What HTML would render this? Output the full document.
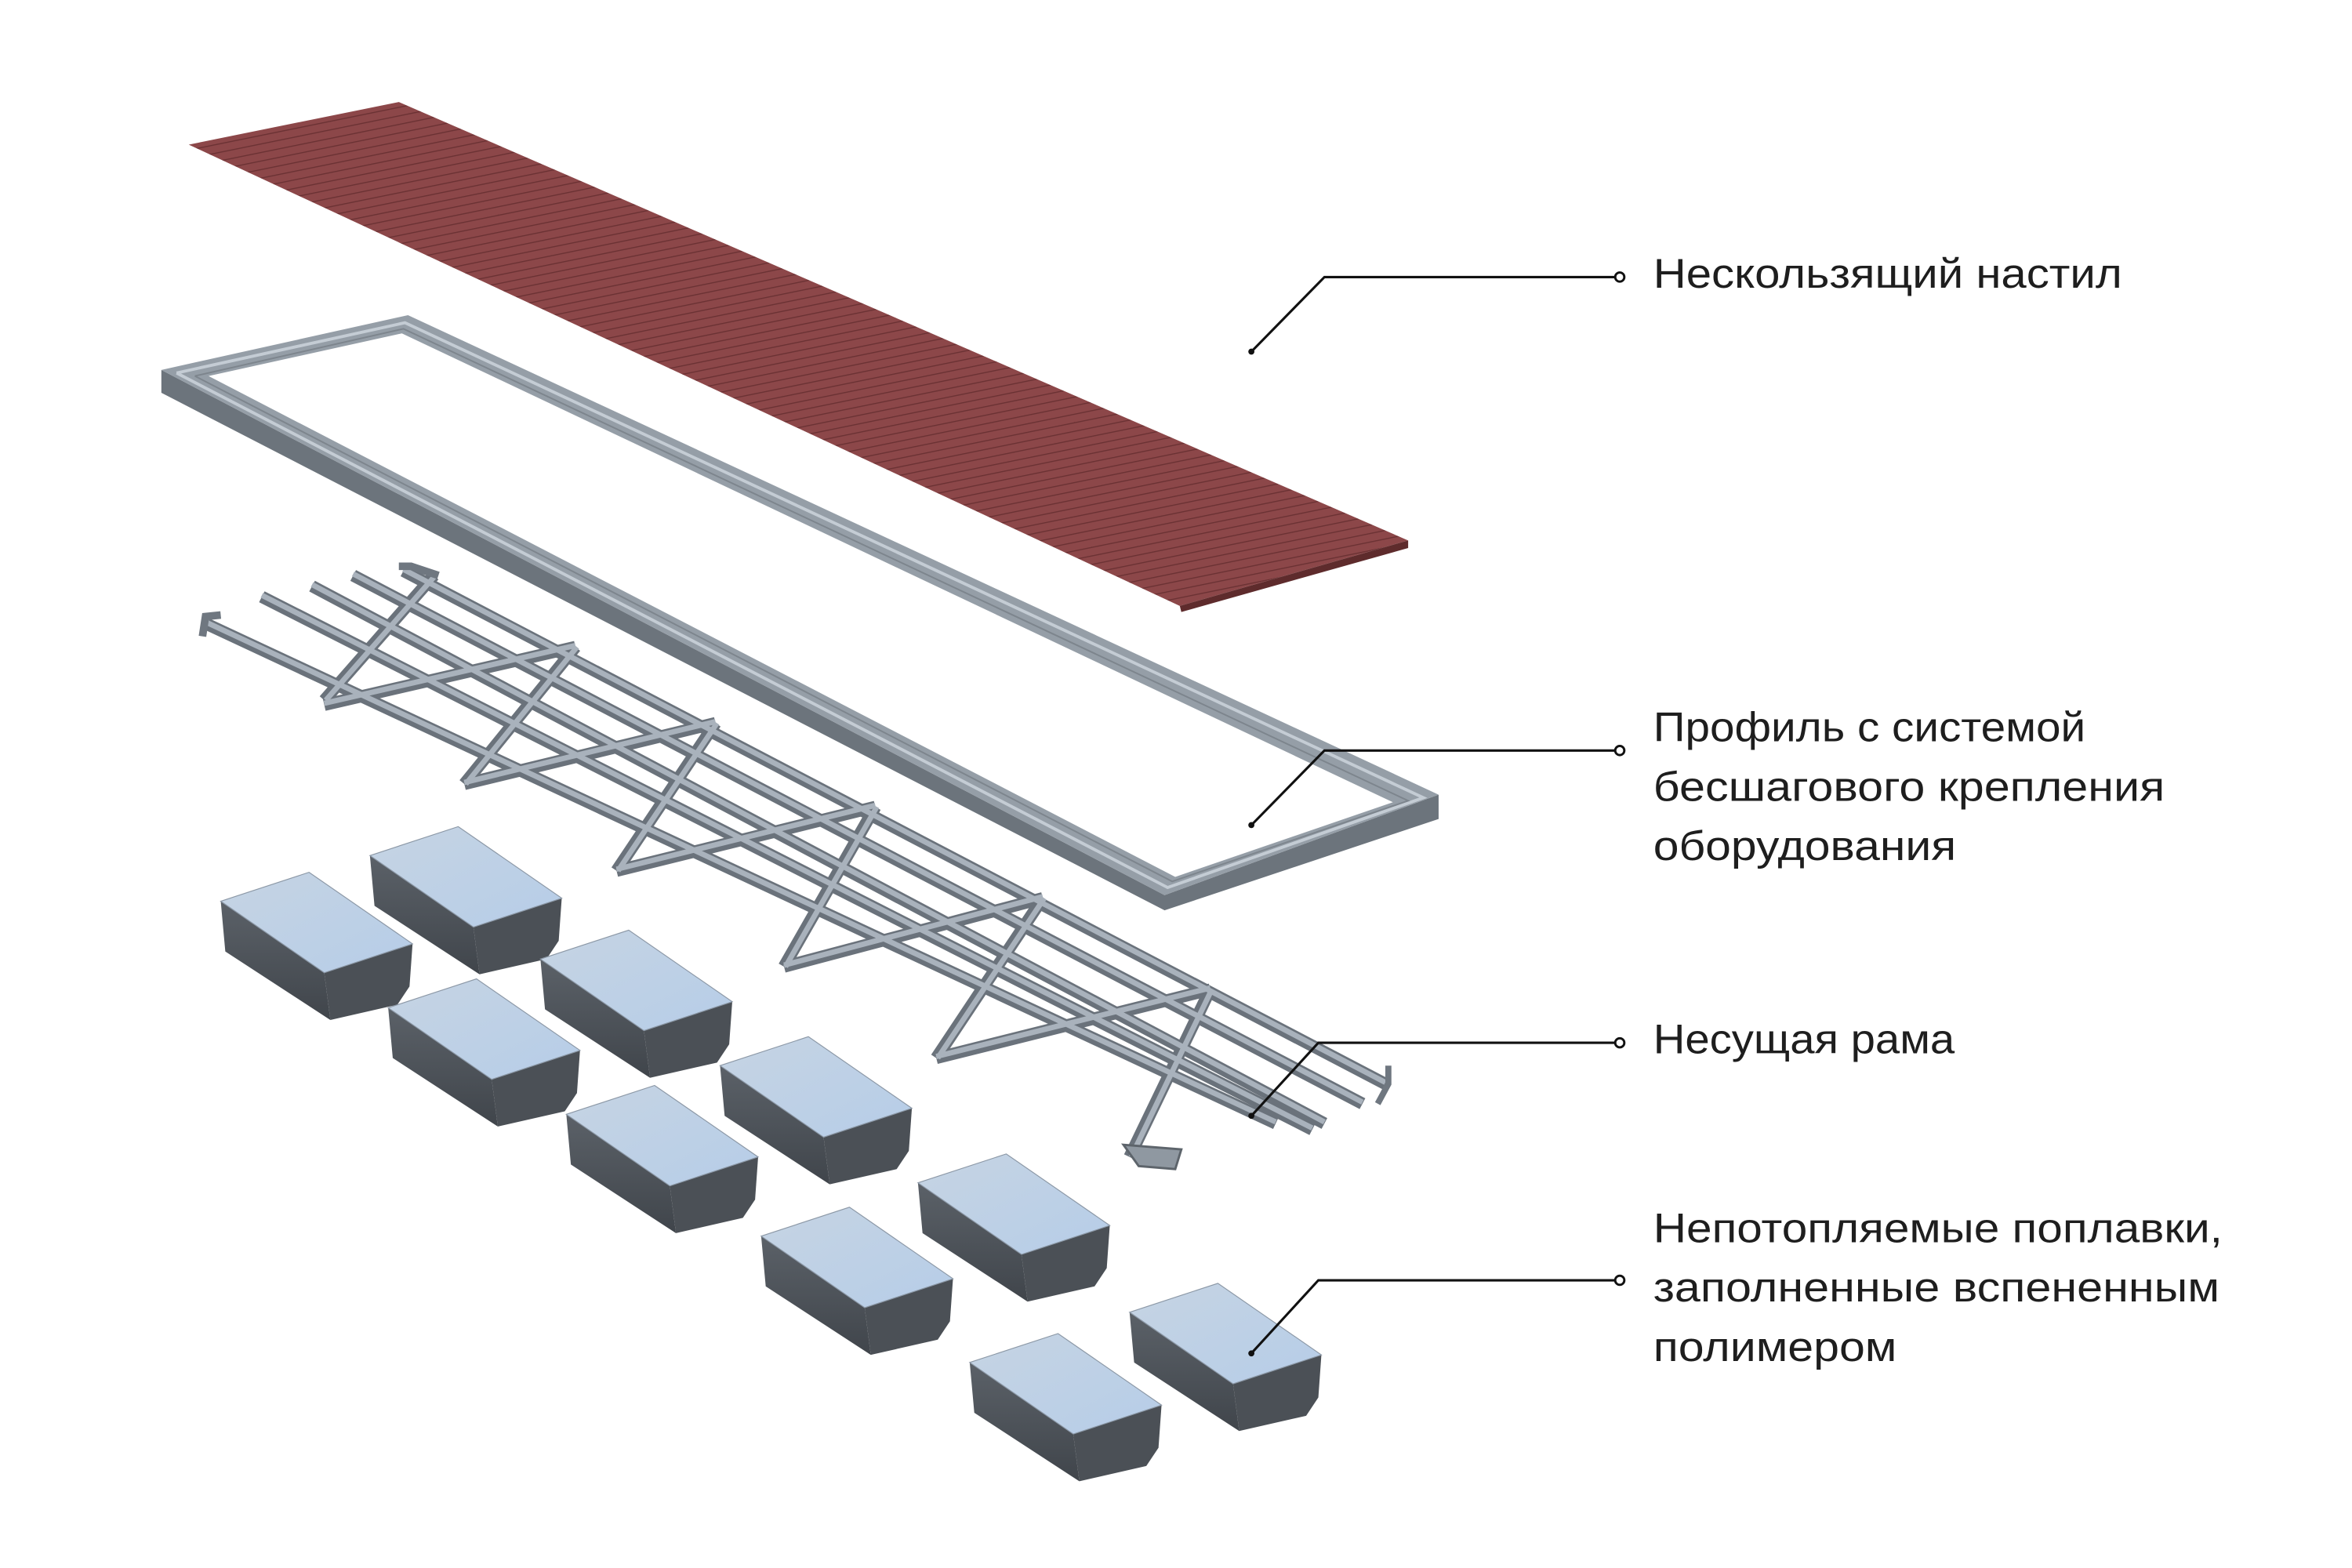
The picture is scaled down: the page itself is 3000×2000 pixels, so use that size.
<!DOCTYPE html>
<html><head><meta charset="utf-8"><style>
html,body{margin:0;padding:0;background:#fff;}
svg{display:block;}
text{font-family:"Liberation Sans","DejaVu Sans",sans-serif;fill:#1e1e1e;font-size:27px;}
</style></head><body>
<svg width="3000" height="2000" viewBox="0 0 1545 1030" xmlns="http://www.w3.org/2000/svg">
<defs>
<pattern id="pl" width="40" height="5.5" patternUnits="userSpaceOnUse" patternTransform="rotate(-11.5)">
<rect width="40" height="5.5" fill="#8c4749"/>
<rect width="40" height="0.7" fill="#6a3133"/>
</pattern>
<linearGradient id="top" x1="0" y1="0" x2="1" y2="1"><stop offset="0" stop-color="#c6d4e3"/><stop offset="1" stop-color="#b6cde8"/></linearGradient>
<linearGradient id="side" x1="0" y1="0" x2="0" y2="1"><stop offset="0" stop-color="#5b6168"/><stop offset="1" stop-color="#40454b"/></linearGradient>
<g id="box">
<polygon points="0,0 68,47 72,78 3,33" fill="url(#side)"/>
<polygon points="68,47 126,28 124,56 116,68 72,78" fill="#4b5056"/>
<polygon points="0,0 58,-19 126,28 68,47" fill="url(#top)" stroke="#8c98a6" stroke-width="0.6"/>
</g>
</defs>

<!-- deck -->
<polygon points="124,95 262,67 925,355 775,398" fill="url(#pl)"/>
<polygon points="775,398 925,355 925,360 776,402" fill="#5e2b2c"/>

<!-- frame -->
<polygon points="106,243 106,258 765,598 945,538 945,522 765,588" fill="#6c747c"/>
<polygon points="106,243 268,207 945,522 765,588" fill="#959ea7"/>
<polygon points="137,247 264,219 915,527 772,576" fill="#fff"/>
<polyline points="116,245 266,212 935,524 767,583 116,245" fill="none" stroke="#c4ccd4" stroke-width="2"/>
<polyline points="128,247 265,216 925,526 770,579 128,247" fill="none" stroke="#7d858d" stroke-width="1"/>

<!-- carrying frame -->
<g stroke-linecap="butt" fill="none">
<g stroke="#6a727b" stroke-width="8">
<line x1="136" y1="410" x2="838" y2="738"/>
<line x1="172" y1="392" x2="862" y2="742"/>
<line x1="205" y1="385" x2="870" y2="738"/>
<line x1="232" y1="378" x2="895" y2="725"/>
<line x1="265" y1="375" x2="910" y2="712"/>
<line x1="213" y1="463" x2="378" y2="425"/>
<line x1="305" y1="515" x2="470" y2="475"/>
<line x1="405" y1="572" x2="575" y2="530"/>
<line x1="515" y1="635" x2="685" y2="590"/>
<line x1="615" y1="695" x2="795" y2="650"/>
<line x1="213" y1="460" x2="285" y2="378"/>
<line x1="305" y1="515" x2="378" y2="425"/>
<line x1="405" y1="572" x2="470" y2="475"/>
<line x1="515" y1="635" x2="575" y2="530"/>
<line x1="615" y1="695" x2="685" y2="590"/>
<line x1="742" y1="760" x2="795" y2="650"/>
</g>
<g stroke="#a9b2bc" stroke-width="3.5">
<line x1="136" y1="409" x2="838" y2="737"/>
<line x1="172" y1="391" x2="862" y2="741"/>
<line x1="205" y1="384" x2="870" y2="737"/>
<line x1="232" y1="377" x2="895" y2="724"/>
<line x1="265" y1="374" x2="910" y2="711"/>
<line x1="213" y1="462" x2="378" y2="424"/>
<line x1="305" y1="514" x2="470" y2="474"/>
<line x1="405" y1="571" x2="575" y2="529"/>
<line x1="515" y1="634" x2="685" y2="589"/>
<line x1="615" y1="694" x2="795" y2="649"/>
<line x1="214" y1="460" x2="286" y2="378"/>
<line x1="306" y1="515" x2="379" y2="425"/>
<line x1="406" y1="572" x2="471" y2="475"/>
<line x1="516" y1="635" x2="576" y2="530"/>
<line x1="616" y1="695" x2="686" y2="590"/>
<line x1="743" y1="760" x2="796" y2="650"/>
</g>
<polyline points="133,418 135,405 145,404" stroke="#6f7780" stroke-width="5"/>
<polyline points="262,372 270,372 288,378" stroke="#6f7780" stroke-width="5"/>
<polygon points="738,752 748,766 772,768 776,755" fill="#8f98a1" stroke="#5d646b" stroke-width="1.5"/>
<polyline points="905,725 912,712 912,700" stroke="#6f7780" stroke-width="4"/>
</g>

<!-- floats -->
<use href="#box" x="145" y="592"/>
<use href="#box" x="243" y="562"/>
<use href="#box" x="255" y="662"/>
<use href="#box" x="355" y="630"/>
<use href="#box" x="372" y="732"/>
<use href="#box" x="473" y="700"/>
<use href="#box" x="500" y="812"/>
<use href="#box" x="603" y="777"/>
<use href="#box" x="637" y="895"/>
<use href="#box" x="742" y="862"/>

<!-- leaders -->
<g stroke="#111" stroke-width="1.6" fill="none">
<polyline points="822,231 870,182 1064,182"/>
<polyline points="822,542 870,493 1064,493"/>
<polyline points="822,733 866,685 1064,685"/>
<polyline points="822,889 866,841 1064,841"/>
</g>
<g fill="#fff" stroke="#111" stroke-width="1.5">
<circle cx="1064" cy="182" r="3"/><circle cx="1064" cy="493" r="3"/><circle cx="1064" cy="685" r="3"/><circle cx="1064" cy="841" r="3"/>
</g>
<g fill="#111"><circle cx="822" cy="231" r="2"/><circle cx="822" cy="542" r="2"/><circle cx="822" cy="733" r="2"/><circle cx="822" cy="889" r="2"/></g>

<text x="1086" y="189" textLength="308" lengthAdjust="spacingAndGlyphs">Нескользящий настил</text>
<text x="1086" y="487" textLength="284" lengthAdjust="spacingAndGlyphs">Профиль с системой</text>
<text x="1086" y="526" textLength="336" lengthAdjust="spacingAndGlyphs">бесшагового крепления</text>
<text x="1086" y="565" textLength="199" lengthAdjust="spacingAndGlyphs">оборудования</text>
<text x="1086" y="692" textLength="198" lengthAdjust="spacingAndGlyphs">Несущая рама</text>
<text x="1086" y="816" textLength="374" lengthAdjust="spacingAndGlyphs">Непотопляемые поплавки,</text>
<text x="1086" y="855" textLength="372" lengthAdjust="spacingAndGlyphs">заполненные вспененным</text>
<text x="1086" y="894" textLength="160" lengthAdjust="spacingAndGlyphs">полимером</text>
</svg>
</body></html>
